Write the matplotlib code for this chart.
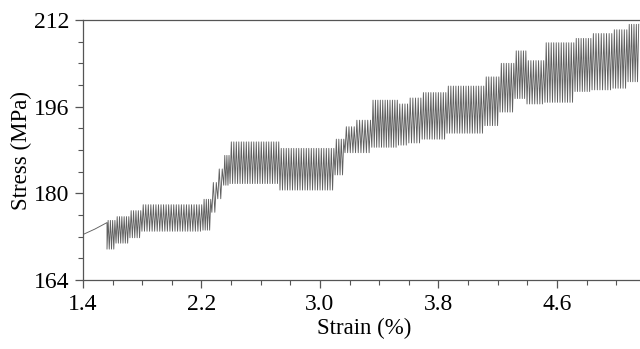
import numpy as np
import matplotlib
matplotlib.use("Agg")
import matplotlib.pyplot as plt
from matplotlib.ticker import MultipleLocator

plt.rcParams['font.family'] = ['Liberation Serif', 'DejaVu Serif']

# smooth pre-serration part
pre_strain = [1.40, 1.48, 1.562]
pre_stress = [172.4, 173.4, 174.6]

# serrated segments: start strain, lower stress, upper stress
seg_start = [1.562, 1.623, 1.717, 1.798, 2.210, 2.270, 2.310, 2.350, 2.393, 2.730,
             3.102, 3.169, 3.240, 3.350, 3.530, 3.600, 3.690, 3.858, 4.114, 4.216,
             4.317, 4.398, 4.519, 4.722, 4.837, 4.979, 5.080]
seg_end = seg_start[1:] + [5.16]
seg_low = [169.7, 170.8, 171.8, 173.0, 173.2, 176.5, 179.0, 181.5, 181.8, 180.6,
           183.4, 187.5, 187.5, 188.5, 188.9, 189.3, 190.0, 191.1, 192.5, 195.0,
           197.5, 196.5, 196.8, 198.8, 199.1, 199.4, 200.6]
seg_high = [175.0, 175.7, 176.8, 177.9, 178.9, 182.0, 184.5, 187.0, 189.5, 188.3,
            190.0, 192.3, 193.5, 197.2, 196.5, 197.6, 198.6, 199.8, 201.5, 204.0,
            206.3, 204.5, 207.8, 208.6, 209.5, 210.2, 211.2]
cycle = 0.017  # strain per serration cycle

xs = list(pre_strain)
ys = list(pre_stress)
for s0, s1, lo, hi in zip(seg_start, seg_end, seg_low, seg_high):
    n = max(1, int(round((s1 - s0) / cycle)))
    w = (s1 - s0) / n
    for k in range(n):
        xa = s0 + k * w
        xs += [xa, xa + 0.5 * w]
        ys += [lo, hi]

fig = plt.figure(figsize=(6.4, 3.49), dpi=100)
ax = fig.add_axes([0.1297, 0.1977, 0.8794, 0.745])
ax.plot(xs, ys, color='#606060', lw=0.65)

ax.set_xlim(1.4, 5.2)
ax.set_ylim(164, 212)
ax.set_xticks([1.4, 2.2, 3.0, 3.8, 4.6])
ax.set_xticklabels(['1.4', '2.2', '3.0', '3.8', '4.6'])
ax.set_yticks([164, 180, 196, 212])
ax.xaxis.set_minor_locator(MultipleLocator(0.2))
ax.yaxis.set_minor_locator(MultipleLocator(4))
ax.tick_params(which='major', direction='out', length=6, width=0.9, labelsize=17,
               color='#555555', pad=4)
ax.tick_params(which='minor', direction='out', length=3.5, width=0.8, color='#555555')
for sp in ax.spines.values():
    sp.set_color('#555555')
    sp.set_linewidth(0.9)
ax.set_xlabel('Strain (%)', fontsize=16.5, labelpad=2)
ax.set_ylabel('Stress (MPa)', fontsize=16.5, labelpad=1)

fig.savefig('out.png', dpi=100)
